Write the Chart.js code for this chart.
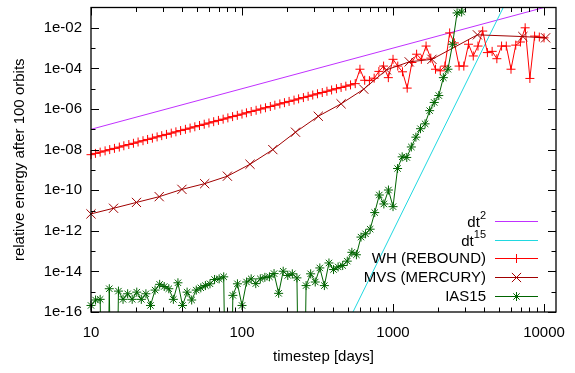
<!DOCTYPE html>
<html>
<head>
<meta charset="utf-8">
<script src="https://cdn.jsdelivr.net/npm/chart.js@4.4.0/dist/chart.umd.min.js"></script>
<style>
html,body{margin:0;padding:0;background:#fff;}
#wrap{width:575px;height:373px;}
</style>
</head>
<body>
<div id="wrap"><canvas id="c" width="575" height="373"></canvas></div>
<script>
// ---------------- data ----------------
const xTickValues = [10, 100, 1000, 10000];
const yTickValues = [1e-16, 1e-14, 1e-12, 1e-10, 1e-8, 1e-6, 1e-4, 1e-2];

// value below the plotted range (drawn as a drop to the bottom axis)
const BELOW = 1e-30;

const dt2X = [10, 10000];
const dt2Y = [1e-7, 1e-1];

const dt15X = [543, 5370];
const dt15Y = [1e-16, 1e-1];

const whX = [10, 10.7, 11.5, 12.4, 13.3, 14.3, 15.4, 16.5, 17.8, 19.1, 20.5, 22.1, 23.7, 25.5, 27.4, 29.4,
  31.6, 34.0, 36.5, 39.2, 42.2, 45.3, 48.7, 52.3, 56.2, 60.4, 64.9, 69.8, 75.0, 80.6, 86.6, 93.1,
  100, 107, 115, 124, 133, 143, 154, 165, 178, 191, 205, 221, 237, 255, 274, 294,
  316, 340, 365, 392, 422, 453, 487, 523, 562, 604, 649, 698, 750, 806, 866, 931,
  1000, 1075, 1155, 1241, 1334, 1433, 1540, 1655, 1778, 1911, 2054, 2207, 2371, 2548, 2738, 2943,
  3162, 3398, 3652, 3924, 4217, 4532, 4870, 5233, 5623, 6043, 6494, 6978, 7499, 8058, 8660, 9306, 10000];
const whY = [5.62e-9, 6.49e-9, 7.50e-9, 8.66e-9,
  1.00e-8, 1.15e-8, 1.33e-8, 1.54e-8, 1.78e-8, 2.05e-8, 2.37e-8, 2.74e-8, 3.16e-8, 3.65e-8, 4.22e-8, 4.87e-8, 5.62e-8, 6.49e-8, 7.50e-8, 8.66e-8,
  1.00e-7, 1.15e-7, 1.33e-7, 1.54e-7, 1.78e-7, 2.05e-7, 2.37e-7, 2.74e-7, 3.16e-7, 3.65e-7, 4.22e-7, 4.87e-7, 5.62e-7, 6.49e-7, 7.50e-7, 8.66e-7,
  1.00e-6, 1.15e-6, 1.33e-6, 1.54e-6, 1.78e-6, 2.05e-6, 2.37e-6, 2.74e-6, 3.16e-6, 3.65e-6, 4.22e-6, 4.87e-6, 5.62e-6, 6.49e-6, 7.50e-6, 8.66e-6,
  1.00e-5, 1.15e-5, 1.33e-5, 1.54e-5, 1.78e-5,
  9.1e-5, 2.6e-5, 2.5e-5, 3.3e-5, 7.1e-5, 1.3e-4, 3.5e-5, 2.8e-4, 1.3e-4, 6.8e-5,
  1.07e-5, 1.95e-4, 5.0e-4, 2.8e-4, 1.26e-3, 3.2e-4, 9.1e-5, 7.6e-5, 1.3e-4, 5.6e-3,
  1.8e-3, 1.3e-4, 1.3e-4, 1.55e-3, 4.1e-4, 1.26e-3, 6.9e-3, 6.0e-4, 6.9e-4, 3.0e-4,
  1.26e-3, 1.26e-3, 9.1e-5, 1.4e-3, 2.0e-3, 1.0e-2, 3.2e-5, 3.9e-3, 3.5e-3, 3.2e-3];

const mvsX = [10, 14.1, 20, 28.3, 40, 56.6, 80, 113, 160, 226, 320, 453, 640, 905, 1280, 1810, 3620, 7240, 10240];
const mvsY = [6.8e-12, 1.29e-11, 2.5e-11, 4.8e-11, 1.10e-10, 2.1e-10, 4.9e-10, 1.9e-9, 1.0e-8, 7.2e-8,
  4.4e-7, 1.8e-6, 9.5e-6, 8.5e-5, 2.1e-4, 2.8e-4, 4.5e-3, 3.7e-3, 3.2e-3];

const iasX = [10, 10.72, 11.50, 12.33, 13.22, 14.17, 15.20, 16.30, 17.48, 18.74, 20.09, 21.54, 23.10, 24.77, 26.56, 28.48,
  30.54, 32.75, 35.11, 37.65, 40.37, 43.29, 46.42, 49.77, 53.37, 57.22, 61.36, 65.79, 70.55, 75.65, 81.11, 86.97, 93.26,
  100, 107.2, 115.0, 123.3, 132.2, 141.7, 152.0, 163.0, 174.8, 187.4, 200.9, 215.4, 231.0, 247.7, 265.6, 284.8,
  305.4, 327.5, 351.1, 376.5, 403.7, 432.9, 464.2, 497.7, 533.7, 572.2, 613.6, 657.9, 705.5, 756.5, 811.1, 869.7, 932.6,
  1000, 1072, 1150, 1233, 1322, 1417, 1520, 1630, 1748, 1874, 2009, 2154, 2310, 2477, 2656, 2848, 3054];
const iasY = [2.1e-16, 3.9e-16, 4.2e-16, BELOW, 1.4e-15, BELOW, 1.07e-15, 4.2e-16, 7.9e-16, 4.2e-16,
  9.5e-16, 4.2e-16, 7.9e-16, 2.1e-16, 1.2e-15, 2.3e-15, 1.8e-15, 1.4e-15, 4.2e-16, 2.75e-15,
  2.1e-16, 9.5e-16, 3.9e-16, 1.2e-15, 1.55e-15, 2.0e-15, 2.45e-15, 4.0e-15, 4.3e-15, 5.4e-15,
  BELOW, 6.6e-16, 2.45e-15, 2.1e-16, 3.0e-15, 4.3e-15, 2.5e-15, 4.3e-15, 5.1e-15, 5.4e-15,
  7.8e-15, 8.3e-16, 1.02e-14, 6.3e-15, 7.6e-15, 4.8e-15, BELOW, 2.0e-15, 7.6e-15, 3.0e-15,
  1.48e-14, 2.0e-15, 2.6e-14, 1.23e-14, 1.66e-14, 1.95e-14, 3.2e-14, 8.7e-14, 6.6e-14, 4.9e-13,
  7.1e-13, 1.2e-12, 7.9e-12, 5.8e-11, 2.1e-11, 1.02e-10, 1.55e-11, 1.17e-9, 4.4e-9, 4.1e-9,
  1.35e-8, 4.1e-8, 1.07e-7, 1.86e-7, 8.3e-7, 2.1e-6, 4.6e-6, 3.5e-5, 9.1e-5, 1.55e-3,
  5.4e-2, 6.0e-2, 10];

const seriesLabels = ['dt^2', 'dt^15', 'WH (REBOUND)', 'MVS (MERCURY)', 'IAS15'];
const seriesColors = ['#c030ff', '#20d8e0', '#ff0000', '#a00000', '#006400'];

// ---------------- chart ----------------
const FONT = "'Liberation Sans', Arial, Helvetica, sans-serif";
const FS = 15;
const pts = (xs, ys) => xs.map((x, i) => ({x: x, y: ys[i]}));

const xMinor = [];
[10, 100, 1000].forEach(d => { for (let m = 2; m <= 9; m++) xMinor.push(m * d); });
const yMinor = [1e-15, 1e-13, 1e-11, 1e-9, 1e-7, 1e-5, 1e-3];

function marker(ctx, style, r, cx, cy, color) {
  ctx.save();
  ctx.strokeStyle = color;
  ctx.lineWidth = 1;
  ctx.beginPath();
  if (style === 'cross' || style === 'star') {
    ctx.moveTo(cx - r, cy); ctx.lineTo(cx + r, cy);
    ctx.moveTo(cx, cy - r); ctx.lineTo(cx, cy + r);
  }
  if (style === 'crossRot' || style === 'star') {
    const d = r * Math.SQRT1_2;
    ctx.moveTo(cx - d, cy - d); ctx.lineTo(cx + d, cy + d);
    ctx.moveTo(cx - d, cy + d); ctx.lineTo(cx + d, cy - d);
  }
  ctx.stroke();
  ctx.restore();
}

const decor = {
  id: 'decor',
  afterDatasetsDraw(chart) {
    const {ctx, chartArea: a, scales: {x, y}} = chart;
    ctx.save();
    ctx.strokeStyle = '#000';
    ctx.lineWidth = 1;
    ctx.beginPath();
    const xt = (v, len) => {
      const p = Math.round(x.getPixelForValue(v)) + 0.5;
      ctx.moveTo(p, a.bottom); ctx.lineTo(p, a.bottom - len);
      ctx.moveTo(p, a.top); ctx.lineTo(p, a.top + len);
    };
    const yt = (v, len) => {
      const p = Math.round(y.getPixelForValue(v)) + 0.5;
      ctx.moveTo(a.left, p); ctx.lineTo(a.left + len, p);
      ctx.moveTo(a.right, p); ctx.lineTo(a.right - len, p);
    };
    xTickValues.forEach(v => xt(v, 8));
    xMinor.forEach(v => xt(v, 4.5));
    yTickValues.forEach(v => yt(v, 8));
    yMinor.forEach(v => yt(v, 4.5));
    ctx.stroke();
    ctx.lineWidth = 1.3;
    ctx.strokeRect(a.left, a.top, a.right - a.left, a.bottom - a.top);

    // key (bottom right)
    const textRight = 486, s0 = 495, s1 = 538, row0 = 221, dy = 18.7;
    ctx.textBaseline = 'middle';
    seriesLabels.forEach((lab, i) => {
      const ds = chart.data.datasets[i];
      const yy = Math.round(row0 + i * dy) + 0.5;
      const parts = lab.split('^');
      ctx.textAlign = 'right';
      ctx.fillStyle = '#000';
      if (parts.length === 2) {
        ctx.font = '11px ' + FONT;
        const sw = ctx.measureText(parts[1]).width;
        ctx.fillText(parts[1], textRight, yy - 6);
        ctx.font = FS + 'px ' + FONT;
        ctx.fillText(parts[0], textRight - sw, yy + 1);
      } else {
        ctx.font = FS + 'px ' + FONT;
        ctx.fillText(lab, textRight, yy);
      }
      ctx.strokeStyle = seriesColors[i];
      ctx.lineWidth = 1;
      ctx.beginPath();
      ctx.moveTo(s0, yy); ctx.lineTo(s1, yy);
      ctx.stroke();
      if (ds.pointRadius > 0) marker(ctx, ds.pointStyle, ds.pointRadius, (s0 + s1) / 2, yy, seriesColors[i]);
    });
    ctx.restore();
  }
};

const chart = new Chart(document.getElementById('c'), {
  type: 'line',
  data: {
    datasets: [
      {label: seriesLabels[0], data: pts(dt2X, dt2Y), borderColor: seriesColors[0], backgroundColor: seriesColors[0],
        borderWidth: 1, pointRadius: 0, order: 4, clip: 0},
      {label: seriesLabels[1], data: pts(dt15X, dt15Y), borderColor: seriesColors[1], backgroundColor: seriesColors[1],
        borderWidth: 1, pointRadius: 0, order: 3, clip: 0},
      {label: seriesLabels[2], data: pts(whX, whY), borderColor: seriesColors[2], backgroundColor: seriesColors[2],
        pointBorderColor: seriesColors[2],
        borderWidth: 1, pointStyle: 'cross', pointRadius: 4.5, pointBorderWidth: 1, order: 2, clip: 8},
      {label: seriesLabels[3], data: pts(mvsX, mvsY), borderColor: seriesColors[3], backgroundColor: seriesColors[3],
        pointBorderColor: seriesColors[3],
        borderWidth: 1, pointStyle: 'crossRot', pointRadius: 6.5, pointBorderWidth: 1, order: 1, clip: 8},
      {label: seriesLabels[4], data: pts(iasX, iasY), borderColor: seriesColors[4], backgroundColor: seriesColors[4],
        pointBorderColor: seriesColors[4],
        borderWidth: 1, pointStyle: 'star', pointRadius: 4.5, pointBorderWidth: 1, order: 0,
        clip: {left: 8, right: 8, top: 0, bottom: 0}}
    ]
  },
  options: {
    responsive: false,
    animation: false,
    devicePixelRatio: 1,
    layout: {padding: {top: 6, right: 19, left: 0, bottom: 0}},
    elements: {line: {tension: 0}},
    plugins: {legend: {display: false}, tooltip: {enabled: false}},
    scales: {
      x: {
        type: 'logarithmic', position: 'bottom', min: 10, max: 12000,
        grid: {display: false, drawTicks: false}, border: {display: false},
        afterBuildTicks: s => { s.ticks = xTickValues.map(v => ({value: v})); },
        afterFit: s => { s.height = 61; s.paddingLeft = 0; s.paddingRight = 0; s.paddingTop = 0; s.paddingBottom = 0; },
        ticks: {autoSkip: false, maxRotation: 0, padding: 12, color: '#000', font: {family: FONT, size: FS},
          callback: v => String(v)},
        title: {display: true, text: 'timestep [days]', color: '#000', font: {family: FONT, size: FS},
          padding: {top: 0, bottom: 7}}
      },
      y: {
        type: 'logarithmic', position: 'left', min: 1e-16, max: 1e-1,
        grid: {display: false, drawTicks: false}, border: {display: false},
        afterBuildTicks: s => { s.ticks = yTickValues.map(v => ({value: v})); },
        afterFit: s => { s.width = 91; s.paddingLeft = 0; s.paddingRight = 0; s.paddingTop = 0; s.paddingBottom = 0; },
        ticks: {autoSkip: false, padding: 9, color: '#000', font: {family: FONT, size: FS},
          callback: v => '1e-' + String(-Math.round(Math.log10(v))).padStart(2, '0')},
        title: {display: true, text: 'relative energy after 100 orbits', color: '#000', font: {family: FONT, size: FS},
          padding: {top: 11, bottom: 0}}
      }
    }
  },
  plugins: [decor]
});
</script>
</body>
</html>
